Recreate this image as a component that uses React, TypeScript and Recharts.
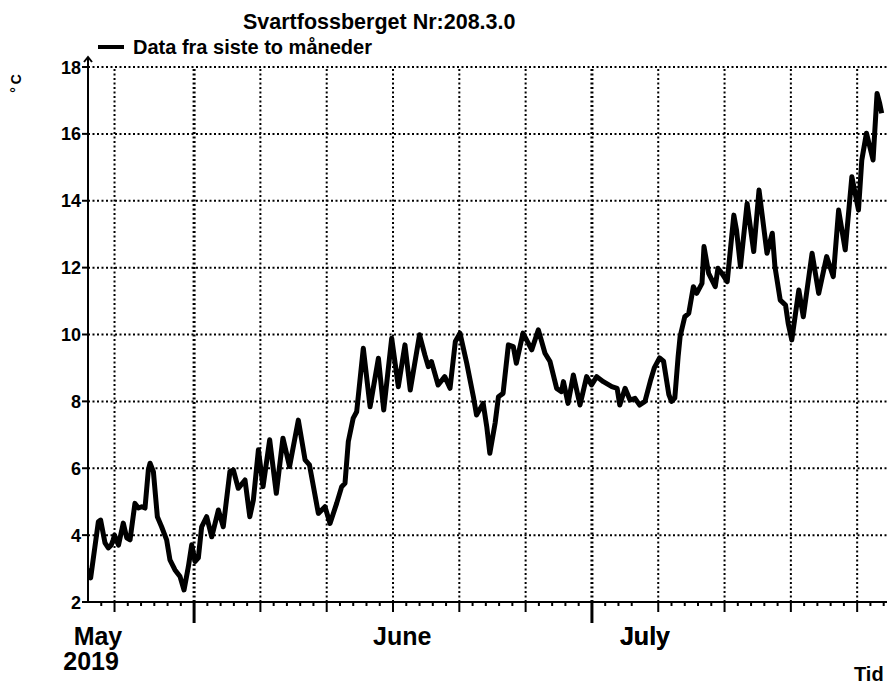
import { LineChart, Line, XAxis, YAxis, CartesianGrid, ReferenceLine, Legend } from 'recharts'

// day index from the left edge of the plot (one minor tick = one day)
const days = [
  0, 0.2, 0.78, 0.95, 1.28, 1.53, 1.75, 1.9, 2.0, 2.3, 2.66, 2.92, 3.17, 3.54, 3.8, 4.05, 4.3,
  4.55, 4.68, 4.93, 5.23, 5.55, 5.93, 6.18, 6.56, 6.94, 7.24, 7.57, 7.82, 8.07, 8.32, 8.57,
  8.95, 9.33, 9.83, 10.2, 10.7, 10.96, 11.33, 11.84, 12.2, 12.47, 12.85, 13.2, 13.7, 14.2,
  14.7, 15.2, 15.86, 16.37, 16.7, 17.37, 17.87, 18.25, 18.75, 19.13, 19.38, 19.63, 20.0,
  20.26, 20.76, 21.27, 21.9, 22.3, 22.9, 23.4, 23.9, 24.3, 25.0, 25.4, 25.66, 25.9, 26.4,
  26.9, 27.3, 27.7, 28.05, 28.56, 29.06, 29.3, 29.8, 30.07, 30.3, 30.7, 30.95, 31.3, 31.7,
  32.07, 32.3, 32.8, 33.2, 33.46, 33.96, 34.46, 34.84, 35.34, 35.7, 35.85, 36.2, 36.6, 37.1,
  37.6, 37.97, 38.36, 38.86, 39.5, 39.9, 40.1, 40.5, 40.87, 41.25, 41.6, 42.0, 42.4, 42.7,
  43.1, 43.4, 43.8, 44.0, 44.25, 44.5, 44.65, 45.0, 45.3, 45.65, 45.9, 46.3, 46.45, 46.8,
  47.3, 47.5, 47.8, 48.2, 48.7, 48.9, 49.2, 49.7, 50.2, 50.6, 51.2, 51.6, 51.8, 52.2, 52.6,
  52.8, 53.07, 53.6, 53.94, 54.6, 55.1, 55.7, 56.2, 56.6, 57.1, 57.6, 58.1, 58.35, 58.7,
  59.2, 59.5, 59.7, 59.85,
]

const temps = [
  3.0, 2.72, 4.4, 4.45, 3.77, 3.62, 3.7, 3.86, 4.0, 3.7, 4.36, 3.92, 3.86, 4.95, 4.81, 4.85, 4.81,
  5.95, 6.15, 5.9, 4.55, 4.25, 3.86, 3.26, 2.96, 2.76, 2.36, 3.06, 3.71, 3.21, 3.32, 4.25,
  4.55, 3.95, 4.75, 4.25, 5.9, 5.95, 5.4, 5.65, 4.55, 5.05, 6.55, 5.45, 6.85, 5.25,
  6.9, 6.05, 7.44, 6.25, 6.1, 4.65, 4.85, 4.35, 4.95, 5.45, 5.55, 6.8, 7.5,
  7.69, 9.59, 7.84, 9.29, 7.74, 9.89, 8.44, 9.69, 8.34, 9.99, 9.39, 9.04, 9.19, 8.49,
  8.74, 8.39, 9.79, 10.04, 9.14, 8.14, 7.59, 7.94, 7.24, 6.45, 7.35, 8.14, 8.24, 9.69,
  9.64, 9.14, 10.04, 9.74, 9.54, 10.14, 9.44, 9.19, 8.39, 8.29, 8.59, 7.94, 8.79, 7.89,
  8.74, 8.49, 8.74, 8.59, 8.44, 8.39, 7.89, 8.39, 8.04, 8.09, 7.89, 8.0, 8.6, 9.0,
  9.3, 9.2, 8.2, 8.0, 8.1, 9.34, 9.94, 10.53, 10.63, 11.43, 11.23, 11.53, 12.63, 11.83,
  11.43, 11.98, 11.83, 11.58, 13.57, 13.13, 12.03, 13.92, 12.48, 14.32, 12.43, 13.03, 12.03, 11.03, 10.88,
  10.33, 9.84, 11.33, 10.53, 12.43, 11.23, 12.33, 11.73, 13.72, 12.53, 14.72, 13.72, 15.22, 16.02,
  15.22, 17.21, 16.91, 16.62,
]

const yTicks = [2, 4, 6, 8, 10, 12, 14, 16, 18]
const gridDays = [2, 8, 13, 18, 23, 28, 33, 38, 43, 48, 53, 58]
const longTickDays = [8, 38]
const minorDays = Array.from({ length: 60 }, (_, i) => i + 1)
const monthLabels = ['May', 'June', 'July']
const monthLabelDays = [0.75, 23.7, 42.0]
const yearLabel = '2019'
const yearLabelDay = 0.23

const data = days.map((d, i) => ({ day: d, temp: temps[i] }))
const xTicks = [...minorDays, ...monthLabelDays, yearLabelDay]

const FONT = '"Liberation Sans", Arial, Helvetica, sans-serif'

function XTick(props: any) {
  const { x, y, payload } = props
  const v = payload.value
  const mi = monthLabelDays.indexOf(v)
  if (mi >= 0) {
    return (
      <text x={x} y={y + 43} textAnchor="middle" fontSize={25} fontWeight="bold" fontFamily={FONT} fill="#000">
        {monthLabels[mi]}
      </text>
    )
  }
  if (v === yearLabelDay) {
    return (
      <text x={x} y={y + 68} textAnchor="middle" fontSize={25} fontWeight="bold" fontFamily={FONT} fill="#000">
        {yearLabel}
      </text>
    )
  }
  const len = longTickDays.includes(v) ? 21 : gridDays.includes(v) ? 10 : 4
  return <line x1={x} x2={x} y1={y} y2={y + len} stroke="#000" strokeWidth={longTickDays.includes(v) ? 3 : 2} />
}

function YTick(props: any) {
  const { x, y, payload } = props
  return (
    <g>
      <line x1={x - 6} x2={x} y1={y} y2={y} stroke="#000" strokeWidth={2} />
      <text x={x - 7} y={y + 6.5} textAnchor="end" fontSize={18} fontWeight="bold" fontFamily={FONT} fill="#000">
        {payload.value}
      </text>
      {payload.value === 18 && (
        <path
          d={`M${x},${y} L${x},${y - 10} M${x - 4},${y - 5} L${x},${y - 10} L${x + 4},${y - 5}`}
          stroke="#000"
          strokeWidth={2}
          fill="none"
        />
      )}
    </g>
  )
}

function LegendContent() {
  return (
    <svg width={300} height={24} style={{ display: 'block' }}>
      <line x1={2} x2={28} y1={11} y2={11} stroke="#000" strokeWidth={4} />
      <text x={37} y={18} fontSize={20} fontWeight="bold" fontFamily={FONT} fill="#000">
        Data fra siste to måneder
      </text>
    </svg>
  )
}

export default function App() {
  return (
    <div style={{ position: 'absolute', left: 0, top: 0, width: 887, height: 684, background: '#fff' }}>
      <LineChart width={887} height={684} data={data} margin={{ top: 67, right: 0, bottom: 22, left: 28 }}>
        <CartesianGrid vertical={false} stroke="#000" strokeWidth={2} strokeDasharray="2 2.5" />
        {gridDays.map((d) => (
          <ReferenceLine
            key={d}
            x={d}
            stroke="#000"
            strokeWidth={longTickDays.includes(d) ? 3 : 2}
            strokeDasharray="2 2.5"
          />
        ))}
        <XAxis
          dataKey="day"
          type="number"
          domain={[0, 60.25]}
          ticks={xTicks}
          interval={0}
          tick={<XTick />}
          tickLine={false}
          tickSize={0}
          tickMargin={0}
          height={60}
          axisLine={{ stroke: '#000', strokeWidth: 2 }}
          allowDataOverflow
        />
        <YAxis
          type="number"
          domain={[2, 18]}
          ticks={yTicks}
          interval={0}
          tick={<YTick />}
          tickLine={false}
          tickSize={0}
          tickMargin={0}
          width={60}
          axisLine={{ stroke: '#000', strokeWidth: 2 }}
        />
        <Legend
          layout="horizontal"
          verticalAlign="middle"
          align="center"
          content={<LegendContent />}
          wrapperStyle={{ top: 36, left: 96, width: 'auto', height: 'auto' }}
        />
        <Line
          type="linear"
          dataKey="temp"
          stroke="#000"
          strokeWidth={5}
          strokeLinejoin="round"
          dot={false}
          isAnimationActive={false}
        />
      </LineChart>
      <svg width={887} height={684} style={{ position: 'absolute', left: 0, top: 0, pointerEvents: 'none' }}>
        <text x={243} y={29} fontSize={21.5} fontWeight="bold" fontFamily={FONT} fill="#000">
          Svartfossberget Nr:208.3.0
        </text>
        <text
          x={16}
          y={82}
          transform="rotate(-90 16 82)"
          textAnchor="middle"
          dominantBaseline="central"
          fontSize={14}
          fontWeight="bold"
          fontFamily={FONT}
          letterSpacing={3}
          fill="#000"
        >
          °C
        </text>
        <text x={854} y={681} fontSize={20} fontWeight="bold" fontFamily={FONT} fill="#000">
          Tid
        </text>
      </svg>
    </div>
  )
}
